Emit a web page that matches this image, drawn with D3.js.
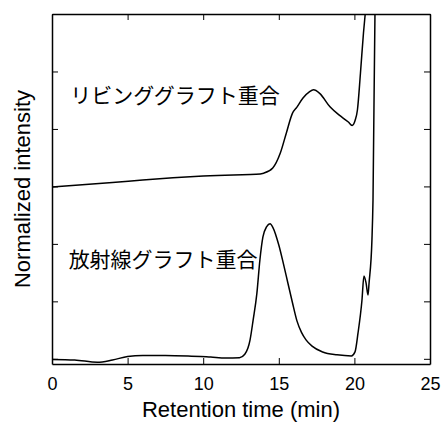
<!DOCTYPE html>
<html>
<head>
<meta charset="utf-8">
<script src="https://cdn.jsdelivr.net/npm/d3@7"></script>
<style>
  html, body { margin: 0; padding: 0; background: #fff; }
  svg { display: block; }
</style>
</head>
<body>
<svg id="chart" width="441" height="426"></svg>
<script>
// ---- data ----
const upperTime  = [0, 2, 4, 6, 8, 10, 12, 13.5, 14.0, 14.6, 15.1, 15.5, 15.9, 16.2, 16.6, 17.0, 17.3, 17.7, 18.4, 19.0, 19.6, 19.85, 20.05, 20.2, 20.4, 20.6, 20.75, 20.9];
const upperValue = [2.99, 3.03, 3.07, 3.11, 3.15, 3.18, 3.20, 3.21, 3.23, 3.32, 3.58, 3.93, 4.27, 4.38, 4.54, 4.64, 4.68, 4.62, 4.38, 4.24, 4.12, 4.06, 4.15, 4.33, 4.97, 5.67, 6.1, 6.6];
const lowerTime  = [0, 1.5, 3.0, 4.0, 5.0, 6.0, 7.5, 9.0, 10.5, 11.5, 12.4, 12.75, 13.1, 13.3, 13.55, 13.75, 13.95, 14.2, 14.42, 14.62, 15.0, 15.3, 15.6, 15.9, 16.2, 16.5, 16.8, 17.2, 17.9, 18.85, 19.8, 20.04, 20.24, 20.5, 20.63, 20.77, 20.9, 20.97, 21.16, 21.23, 21.36, 21.45];
const lowerValue = [-0.01, -0.02, -0.06, -0.02, 0.04, 0.06, 0.06, 0.05, 0.03, 0.015, 0.02, 0.08, 0.33, 0.67, 1.14, 1.72, 2.12, 2.30, 2.35, 2.28, 1.98, 1.66, 1.32, 0.98, 0.66, 0.46, 0.33, 0.22, 0.12, 0.07, 0.05, 0.12, 0.45, 1.02, 1.44, 1.32, 1.11, 1.32, 2.07, 2.76, 6.0, 6.6];
const xTickValues = [0, 5, 10, 15, 20, 25];
const yTickValues = [0, 1, 2, 3, 4, 5, 6];
const seriesLabels = ["リビンググラフト重合", "放射線グラフト重合"];
const labelAnchors = [[1.2, 4.45], [1.1, 1.6]]; // [time, value] of label start
const xTitle = "Retention time (min)";
const yTitle = "Normalized intensity";

// ---- layout ----
const L = 52, R = 430, T = 14, B = 364;
const svg = d3.select("#chart");
const x = d3.scaleLinear().domain([0, 25]).range([L, R]);
const y = d3.scaleLinear().domain([-0.09, 6]).range([B, T]);

svg.append("defs").append("clipPath").attr("id", "clip")
  .append("rect").attr("x", L).attr("y", T).attr("width", R - L).attr("height", B - T);

const latin = "'Liberation Sans', Arial, sans-serif";
const cjk = "'Noto Sans CJK JP', 'Noto Sans CJK SC', sans-serif";

function styleAxis(g) {
  g.select(".domain").attr("stroke", "#000").attr("stroke-width", 1.5);
  g.selectAll(".tick line").attr("stroke", "#000").attr("stroke-width", 1);
}

svg.append("g").attr("transform", `translate(0,${B})`)
  .call(d3.axisBottom(x).tickValues(xTickValues).tickSizeInner(-6).tickSizeOuter(0).tickPadding(13).tickFormat(d3.format("d")))
  .call(styleAxis)
  .call(g => g.selectAll("text").attr("font-family", latin).attr("font-size", 18).attr("fill", "#000"));

svg.append("g").attr("transform", `translate(0,${T})`)
  .call(d3.axisTop(x).tickValues(xTickValues).tickSizeInner(-6).tickSizeOuter(0).tickFormat(""))
  .call(styleAxis);

svg.append("g").attr("transform", `translate(${L},0)`)
  .call(d3.axisLeft(y).tickValues(yTickValues).tickSizeInner(-6).tickSizeOuter(0).tickFormat(""))
  .call(styleAxis);

svg.append("g").attr("transform", `translate(${R},0)`)
  .call(d3.axisRight(y).tickValues(yTickValues).tickSizeInner(-6).tickSizeOuter(0).tickFormat(""))
  .call(styleAxis);

const line = d3.line().x(d => x(d[0])).y(d => y(d[1])).curve(d3.curveMonotoneX);
const series = [d3.zip(upperTime, upperValue), d3.zip(lowerTime, lowerValue)];

svg.append("g").attr("clip-path", "url(#clip)")
  .selectAll("path").data(series).join("path")
  .attr("d", line).attr("fill", "none").attr("stroke", "#000").attr("stroke-width", 1.5);

svg.selectAll("text.series-label").data(seriesLabels).join("text")
  .attr("class", "series-label")
  .attr("x", (d, i) => x(labelAnchors[i][0]))
  .attr("y", (d, i) => y(labelAnchors[i][1]))
  .attr("font-family", cjk).attr("font-size", 21).attr("fill", "#000")
  .text(d => d);

svg.append("text").attr("x", (L + R) / 2).attr("y", 417)
  .attr("text-anchor", "middle").attr("font-family", latin).attr("font-size", 22).attr("fill", "#000")
  .text(xTitle);

svg.append("text").attr("transform", `translate(30,${(T + B) / 2}) rotate(-90)`)
  .attr("text-anchor", "middle").attr("font-family", latin).attr("font-size", 22).attr("fill", "#000")
  .text(yTitle);
</script>
</body>
</html>
